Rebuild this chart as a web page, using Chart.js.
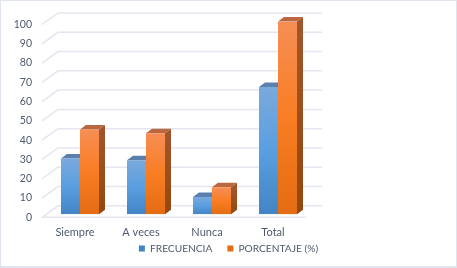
<!DOCTYPE html>
<html>
<head>
<meta charset="utf-8">
<script src="https://cdn.jsdelivr.net/npm/chart.js@4"></script>
<style>
  html, body { margin: 0; padding: 0; background: #fff; }
  #wrap { width: 457px; height: 268px; position: relative; overflow: hidden; }
  #wrap:after { content: ""; position: absolute; left: 0; top: 0; right: 0; bottom: 0; box-sizing: border-box;
    border: 1px solid #dfe4ee; border-width: 1px 1px 2px 1px; pointer-events: none; }
</style>
</head>
<body>
<div id="wrap"><canvas id="chart" width="457" height="268"></canvas></div>
<script>
const categories = ["Siempre", "A veces", "Nunca", "Total"];
const frecuencia = [29, 28, 9, 66];
const porcentaje = [44, 42, 14, 100];
const yTicks = [0, 10, 20, 30, 40, 50, 60, 70, 80, 90, 100];

const textColor = "#4e5a6e";
const fontName = "Lato, Carlito, sans-serif";

// depth of the floor, and where the bars sit inside it
const wallX = 16, wallY = -11.5;
const barX = 5, barY = -3;
const sideX = 6, sideY = -4.5;

function gradient(c, y0, y1, stops) {
  const g = c.createLinearGradient(0, y0, 0, y1);
  stops.forEach((s, i) => g.addColorStop(i / (stops.length - 1), s));
  return g;
}

function barFill(solid, stops) {
  return (ctx) => {
    if (!ctx.parsed || !ctx.chart.chartArea) return solid;
    const y = ctx.chart.scales.y;
    return gradient(ctx.chart.ctx, y.getPixelForValue(ctx.parsed.y), y.getPixelForValue(0), stops);
  };
}

const walls = {
  id: "walls",
  beforeDraw(chart) {
    // the tall legend overlaps the axis box, labels get clipped to that box otherwise
    chart.scales.x.bottom = chart.height;
  },
  beforeDatasetsDraw(chart) {
    const c = chart.ctx, y = chart.scales.y, a = chart.chartArea;
    c.save();
    c.strokeStyle = "#e3e6ee";
    c.lineWidth = 1.5;
    yTicks.forEach((t) => {
      const p = y.getPixelForValue(t);
      c.beginPath();
      c.moveTo(a.left, p);
      c.lineTo(a.left + wallX, p + wallY);
      c.lineTo(a.right + wallX, p + wallY);
      c.stroke();
    });
    const p0 = y.getPixelForValue(0);
    c.beginPath();
    c.moveTo(a.left, p0);
    c.lineTo(a.right, p0);
    c.stroke();
    c.restore();
    // bars stand in the middle of the floor
    c.save();
    c.translate(barX, barY);
    chart.data.datasets.forEach((ds, i) => {
      chart.getDatasetMeta(i).data.forEach((bar) => {
        const l = bar.x - bar.width / 2, r = bar.x + bar.width / 2;
        c.fillStyle = gradient(c, bar.y, bar.base, ds.sideStops);
        c.beginPath();
        c.moveTo(r, bar.y);
        c.lineTo(r + sideX, bar.y + sideY);
        c.lineTo(r + sideX, bar.base + sideY);
        c.lineTo(r, bar.base);
        c.closePath();
        c.fill();
        c.fillStyle = ds.topColor;
        c.beginPath();
        c.moveTo(l, bar.y);
        c.lineTo(l + sideX, bar.y + sideY);
        c.lineTo(r + sideX, bar.y + sideY);
        c.lineTo(r, bar.y);
        c.closePath();
        c.fill();
      });
    });
  },
  afterDatasetsDraw(chart) {
    chart.ctx.restore();
  }
};

new Chart(document.getElementById("chart"), {
  type: "bar",
  data: {
    labels: categories,
    datasets: [
      {
        label: "FRECUENCIA",
        data: frecuencia,
        backgroundColor: barFill("#5b9bd5", ["#7aa9dc", "#5a9fe0", "#4384c4"]),
        sideStops: ["#4f7299", "#2f5f8f"],
        topColor: "#5b80ad"
      },
      {
        label: "PORCENTAJE (%)",
        data: porcentaje,
        backgroundColor: barFill("#f47b26", ["#f68e55", "#f97d23", "#e46c12"]),
        sideStops: ["#a0562c", "#93480f"],
        topColor: "#b8673f"
      }
    ]
  },
  options: {
    responsive: false,
    animation: false,
    layout: { padding: { top: 24.5, bottom: 4.5 } },
    datasets: { bar: { categoryPercentage: 0.576, barPercentage: 1 } },
    scales: {
      x: {
        grid: { display: false, drawTicks: false },
        border: { display: false },
        ticks: { color: textColor, font: { family: fontName, size: 11 }, padding: 9, maxRotation: 0 },
        afterFit(s) { s.height = 11; }
      },
      y: {
        min: 0,
        max: 100,
        grid: { display: false, drawTicks: false },
        border: { display: false },
        ticks: { color: textColor, font: { family: fontName, size: 10.5 }, stepSize: 10, padding: 10 },
        afterFit(s) { s.width = 42; }
      },
      // empty axis only holds the blank space on the right, so the legend still centres on the page
      spacer: {
        position: "right",
        grid: { display: false },
        border: { display: false },
        ticks: { display: false },
        afterFit(s) { s.width = 151; }
      }
    },
    plugins: {
      title: { display: false },
      tooltip: { enabled: false },
      legend: {
        position: "bottom",
        labels: { color: textColor, font: { family: fontName, size: 10.2 }, boxWidth: 6, boxHeight: 6, padding: 15 }
      }
    }
  },
  plugins: [walls]
});
</script>
</body>
</html>
